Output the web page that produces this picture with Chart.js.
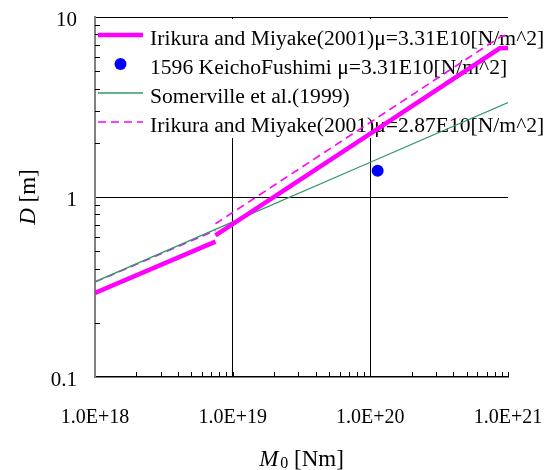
<!DOCTYPE html>
<html>
<head>
<meta charset="utf-8">
<script src="https://cdn.jsdelivr.net/npm/chart.js@4/dist/chart.umd.min.js"></script>
<style>
  html, body { margin: 0; padding: 0; background: #fff; }
  #wrap { width: 551px; height: 470px; }
</style>
</head>
<body>
<div id="wrap"><canvas id="c" width="551" height="470"></canvas></div>
<script>
// ---- data ----
const seriesLabels = [
  'Irikura and Miyake(2001)\u03bc=3.31E10[N/m^2]',
  '1596 KeichoFushimi \u03bc=3.31E10[N/m^2]',
  'Somerville et al.(1999)',
  'Irikura and Miyake(2001)\u03bc=2.87E10[N/m^2]'
];
// Irikura & Miyake, mu = 3.31E10 (null = break between the two stages)
const im331M0 = [1.0e18, 7.5e18, 7.5e18, 7.5e18, 1.0e20, 8.7e20, 1.0e21];
const im331D  = [0.293, 0.565, null, 0.612, 2.25, 6.70, 6.73];
// 1596 Keicho-Fushimi event
const keichoM0 = [1.13e20];
const keichoD  = [1.40];
// Somerville et al. (1999)
const somM0 = [1.0e18, 1.0e19, 1.0e20, 1.0e21];
const somD  = [0.338, 0.727, 1.56, 3.35];
// Irikura & Miyake, mu = 2.87E10
const im287M0 = [1.0e18, 7.5e18, 7.5e18, 7.5e18, 1.0e20, 9.0e20, 1.0e21];
const im287D  = [0.337, 0.652, null, 0.710, 2.60, 7.85, 7.95];

const xTickValues = [1e18, 1e19, 1e20, 1e21];
const xTickLabels = ['1.0E+18', '1.0E+19', '1.0E+20', '1.0E+21'];
const yTickValues = [0.1, 1, 10];
const yTickLabels = ['0.1', '1', '10'];

const pts = (xs, ys) => xs.map((x, i) => ({ x: x, y: ys[i] }));

const SERIF = '"Liberation Serif", "Times New Roman", serif';

// minor tick marks + legend box (drawn under the data)
const decorPlugin = {
  id: 'decor',
  beforeDatasetsDraw(chart) {
    const c = chart.ctx, a = chart.chartArea;
    const xs = chart.scales.x, ys = chart.scales.y;
    c.save();
    c.strokeStyle = '#000';
    c.lineWidth = 1;
    c.beginPath();
    for (let d = 18; d < 21; d++) {
      for (let m = 2; m <= 10; m++) {
        const px = Math.round(xs.getPixelForValue(m * Math.pow(10, d))) + 0.5;
        c.moveTo(px, a.bottom);
        c.lineTo(px, a.bottom - 5);
      }
    }
    for (let d = -1; d < 1; d++) {
      for (let m = 2; m <= 9; m++) {
        const py = Math.round(ys.getPixelForValue(m * Math.pow(10, d))) + 0.5;
        c.moveTo(a.left, py);
        c.lineTo(a.left + 5, py);
      }
    }
    c.stroke();

    // legend (white box hides grid lines; data lines are drawn over it)
    c.fillStyle = '#fff';
    c.fillRect(a.left + 6, a.top + 2, chart.width - a.left - 6, 119);
    const ds = chart.data.datasets;
    const base0 = a.top + 28, step = 29;
    const sx0 = a.left + 3, sx1 = a.left + 48, tx = a.left + 55;
    c.font = '21.6px ' + SERIF;
    c.textBaseline = 'alphabetic';
    c.textAlign = 'left';
    ds.forEach((d, i) => {
      const base = base0 + i * step;
      const sy = base - 10;
      if (d.showLine) {
        c.save();
        c.strokeStyle = d.borderColor;
        c.lineWidth = d.borderWidth;
        c.setLineDash(d.borderDash || []);
        c.beginPath();
        c.moveTo(sx0, sy);
        c.lineTo(sx1, sy);
        c.stroke();
        c.restore();
      } else {
        c.fillStyle = d.backgroundColor;
        c.beginPath();
        c.arc((sx0 + sx1) / 2, sy, d.pointRadius, 0, Math.PI * 2);
        c.fill();
      }
      c.fillStyle = '#000';
      c.fillText(d.label, tx, base);
    });
    c.restore();
  },
  afterDraw(chart) {
    const c = chart.ctx, a = chart.chartArea;
    c.save();
    c.fillStyle = '#000';
    c.textBaseline = 'alphabetic';
    // x-axis title: M0 [Nm]
    const fi = 'italic 23px ' + SERIF, fr = '23px ' + SERIF, fs = '16px ' + SERIF;
    c.font = fi; const wM = c.measureText('M').width;
    c.font = fs; const w0 = c.measureText('0').width;
    c.font = fr; const wR = c.measureText(' [Nm]').width;
    let x = (a.left + a.right) / 2 - (wM + 2 + w0 + wR) / 2;
    const by = 466;
    c.textAlign = 'left';
    c.font = fi; c.fillText('M', x, by); x += wM + 2;
    c.font = fs; c.fillText('0', x, by + 2); x += w0;
    c.font = fr; c.fillText(' [Nm]', x, by);
    // y-axis title: D [m]
    c.translate(35, (a.top + a.bottom) / 2);
    c.rotate(-Math.PI / 2);
    c.font = fi; const wD = c.measureText('D').width;
    c.font = fr; const wm = c.measureText(' [m]').width;
    let yx = -(wD + wm) / 2;
    c.font = fi; c.fillText('D', yx, 0); yx += wD;
    c.font = fr; c.fillText(' [m]', yx, 0);
    c.restore();
  }
};

new Chart(document.getElementById('c'), {
  type: 'scatter',
  data: {
    datasets: [
      { label: seriesLabels[0], data: pts(im331M0, im331D), showLine: true, spanGaps: false,
        borderColor: '#ff00ff', backgroundColor: '#ff00ff', borderWidth: 4.5, pointRadius: 0,
        borderCapStyle: 'butt' },
      { label: seriesLabels[1], data: pts(keichoM0, keichoD), showLine: false,
        borderColor: '#0000ff', backgroundColor: '#0000ff', pointRadius: 6, pointBorderWidth: 0 },
      { label: seriesLabels[2], data: pts(somM0, somD), showLine: true,
        borderColor: '#339966', backgroundColor: '#339966', borderWidth: 1.3, pointRadius: 0 },
      { label: seriesLabels[3], data: pts(im287M0, im287D), showLine: true, spanGaps: false,
        borderColor: '#ff00ff', backgroundColor: '#ff00ff', borderWidth: 1.6, pointRadius: 0,
        borderDash: [8, 5] }
    ]
  },
  options: {
    responsive: false,
    animation: false,
    devicePixelRatio: 1,
    layout: { padding: { top: 17, right: 43, left: 0, bottom: 0 } },
    plugins: { legend: { display: false }, tooltip: { enabled: false } },
    scales: {
      x: {
        type: 'logarithmic', min: 1e18, max: 1e21,
        afterBuildTicks: s => { s.ticks = xTickValues.map(v => ({ value: v, major: true })); },
        afterFit: s => { s.height = 93; s.paddingLeft = 0; s.paddingRight = 0; },
        ticks: {
          autoSkip: false, maxRotation: 0, padding: 29, color: '#000',
          font: { family: SERIF, size: 20 },
          callback: v => xTickLabels[xTickValues.indexOf(v)]
        },
        grid: {
          drawTicks: false, lineWidth: 1,
          color: ctx => (ctx.tick && (ctx.tick.value === 1e19 || ctx.tick.value === 1e20)) ? '#000' : 'rgba(0,0,0,0)'
        },
        border: { display: true, color: '#000', width: 1.5 }
      },
      y: {
        type: 'logarithmic', min: 0.1, max: 10,
        afterBuildTicks: s => { s.ticks = yTickValues.map(v => ({ value: v, major: true })); },
        afterFit: s => { s.width = 95; s.paddingTop = 0; s.paddingBottom = 0; },
        ticks: {
          autoSkip: false, padding: 18, labelOffset: 3, color: '#000',
          font: { family: SERIF, size: 21 },
          callback: v => yTickLabels[yTickValues.indexOf(v)]
        },
        grid: {
          drawTicks: false, lineWidth: 1,
          color: ctx => (ctx.tick && (ctx.tick.value === 1 || ctx.tick.value === 10)) ? '#000' : 'rgba(0,0,0,0)'
        },
        border: { display: true, color: '#808080', width: 2 }
      }
    }
  },
  plugins: [decorPlugin]
});
</script>
</body>
</html>
